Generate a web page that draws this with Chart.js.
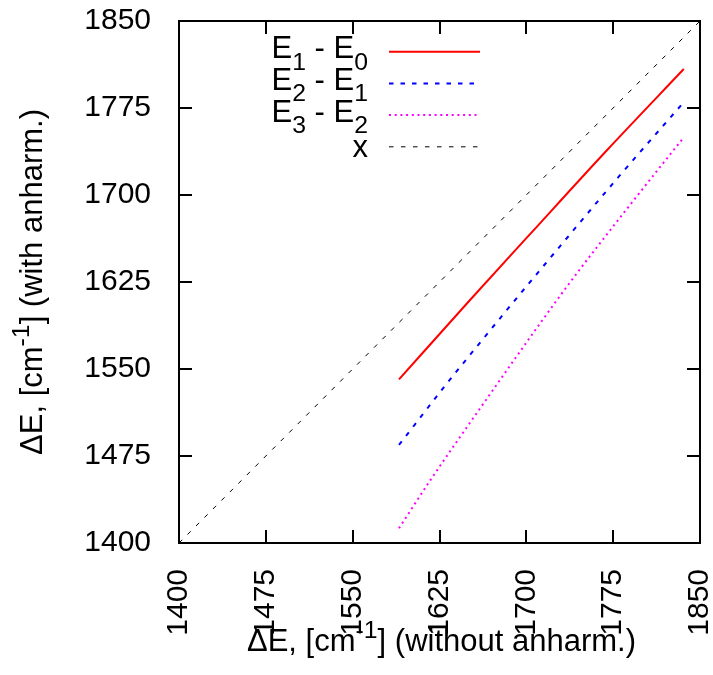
<!DOCTYPE html>
<html><head><meta charset="utf-8">
<script src="https://cdn.jsdelivr.net/npm/chart.js@4/dist/chart.umd.min.js"></script>
<style>html,body{margin:0;padding:0;background:#fff;} #wrap{width:713px;height:675px;}</style>
</head><body><div id="wrap"><canvas id="c" width="713" height="675"></canvas></div>
<script>
// ---- data ----
const tickValues = [1400, 1475, 1550, 1625, 1700, 1775, 1850];
const xE10 = [1590, 1650, 1703, 1770, 1836];
const yE10 = [1541, 1608, 1666, 1739, 1808.6];
const xE21 = [1590, 1631, 1680, 1720, 1780, 1836];
const yE21 = [1484.5, 1537, 1597, 1645, 1716, 1780];
const xE32 = [1590, 1617, 1660, 1735, 1790, 1836];
const yE32 = [1412.7, 1454, 1516, 1621, 1692, 1749.7];
const xDiag = [1400, 1850];
const yDiag = [1400, 1850];
const seriesLabels = ['E_1 - E_0', 'E_2 - E_1', 'E_3 - E_2', 'x'];
const xTitle = 'ΔE, [cm^{-1}] (without anharm.)';
const yTitle = 'ΔE, [cm^{-1}] (with anharm.)';

const FAM = "'Liberation Sans', Arial, sans-serif";
const FS = 30;
const FT = 31;

function pts(xs, ys) { return xs.map((v, i) => ({ x: v, y: ys[i] })); }

function richParts(s) {
  const parts = []; let i = 0; let buf = '';
  while (i < s.length) {
    const c = s[i];
    if (c === '_' || c === '^') {
      if (buf) { parts.push({ t: buf, m: 0 }); buf = ''; }
      let t;
      if (s[i + 1] === '{') { const j = s.indexOf('}', i + 2); t = s.slice(i + 2, j); i = j + 1; }
      else { t = s[i + 1]; i += 2; }
      parts.push({ t, m: c === '_' ? -1 : 1 });
    } else { buf += c; i++; }
  }
  if (buf) parts.push({ t: buf, m: 0 });
  return parts;
}
function drawRich(ctx, s, x, y, align, size) {
  const parts = richParts(s);
  let w = 0;
  parts.forEach(p => { ctx.font = (p.m ? size * 0.8 : size) + 'px ' + FAM; p.w = ctx.measureText(p.t).width; w += p.w; });
  let cx = align === 'right' ? x - w : align === 'center' ? x - w / 2 : x;
  ctx.textBaseline = 'alphabetic'; ctx.textAlign = 'left'; ctx.fillStyle = '#000';
  parts.forEach(p => {
    ctx.font = (p.m ? size * 0.8 : size) + 'px ' + FAM;
    const dy = p.m === -1 ? 0.36 * size : p.m === 1 ? -0.42 * size : 0;
    ctx.fillText(p.t, cx, y + dy);
    cx += p.w;
  });
}

const decor = {
  id: 'decor',
  afterDraw(chart) {
    const { ctx, chartArea: a, scales } = chart;
    const xs = scales.x, ys = scales.y;
    ctx.save();
    ctx.strokeStyle = '#000'; ctx.lineWidth = 2; ctx.setLineDash([]);
    ctx.strokeRect(a.left, a.top, a.right - a.left, a.bottom - a.top);
    const TL = 13;
    ctx.beginPath();
    tickValues.forEach(v => {
      const px = Math.round(xs.getPixelForValue(v));
      ctx.moveTo(px, a.bottom); ctx.lineTo(px, a.bottom - TL);
      ctx.moveTo(px, a.top); ctx.lineTo(px, a.top + TL);
      const py = Math.round(ys.getPixelForValue(v));
      ctx.moveTo(a.left, py); ctx.lineTo(a.left + TL, py);
      ctx.moveTo(a.right, py); ctx.lineTo(a.right - TL, py);
    });
    ctx.stroke();

    // legend
    chart.data.datasets.forEach((ds, i) => {
      const ry = a.top + 30.7 + i * 31.7;
      ctx.save();
      ctx.strokeStyle = ds.borderColor; ctx.lineWidth = ds.borderWidth;
      ctx.setLineDash(ds.borderDash || []);
      ctx.beginPath(); ctx.moveTo(389, ry); ctx.lineTo(480, ry); ctx.stroke();
      ctx.restore();
      const lab = seriesLabels[i];
      if (lab.indexOf('_') >= 0) drawRich(ctx, lab, 368, ry + 6.7, 'right', FT);
      else drawRich(ctx, lab, 368, ry + 10.5, 'right', FT);
    });

    // axis titles
    drawRich(ctx, xTitle, (a.left + a.right) / 2 + 2, 651, 'center', FT);
    ctx.save();
    ctx.translate(42, (a.top + a.bottom) / 2);
    ctx.rotate(-Math.PI / 2);
    drawRich(ctx, yTitle, 0, 0, 'center', FT);
    ctx.restore();
    ctx.restore();
  }
};

const tickFont = { family: FAM, size: FS };
const fmt = v => String(v);
new Chart(document.getElementById('c'), {
  type: 'scatter',
  data: {
    datasets: [
      { label: seriesLabels[0], data: pts(xE10, yE10), showLine: true, borderColor: '#ff0000', borderWidth: 2, pointRadius: 0, cubicInterpolationMode: 'monotone' },
      { label: seriesLabels[1], data: pts(xE21, yE21), showLine: true, borderColor: '#0000ff', borderWidth: 2, borderDash: [4.5, 7], pointRadius: 0, cubicInterpolationMode: 'monotone' },
      { label: seriesLabels[2], data: pts(xE32, yE32), showLine: true, borderColor: '#ff00ff', borderWidth: 2, borderDash: [2, 3.7], pointRadius: 0, cubicInterpolationMode: 'monotone' },
      { label: seriesLabels[3], data: pts(xDiag, yDiag), showLine: true, borderColor: '#000000', borderWidth: 1, borderDash: [4.5, 7.5], pointRadius: 0, tension: 0 }
    ]
  },
  options: {
    responsive: false,
    animation: false,
    devicePixelRatio: 1,
    layout: { padding: { top: 21, right: 13, left: 0, bottom: 0 } },
    plugins: { legend: { display: false }, tooltip: { enabled: false } },
    scales: {
      x: {
        type: 'linear', min: 1400, max: 1850,
        grid: { display: false }, border: { display: false },
        ticks: { font: tickFont, color: '#000', padding: 18, minRotation: 90, maxRotation: 90, autoSkip: false, callback: fmt },
        afterBuildTicks: s => { s.ticks = tickValues.map(v => ({ value: v })); },
        afterFit: s => { s.height = 132; s.paddingLeft = 0; s.paddingRight = 0; }
      },
      y: {
        type: 'linear', min: 1400, max: 1850,
        grid: { display: false }, border: { display: false },
        ticks: { font: tickFont, color: '#000', padding: 20, autoSkip: false, callback: fmt },
        afterBuildTicks: s => { s.ticks = tickValues.map(v => ({ value: v })); },
        afterFit: s => { s.width = 179; s.paddingTop = 0; s.paddingBottom = 0; }
      }
    }
  },
  plugins: [decor]
});
</script></body></html>
